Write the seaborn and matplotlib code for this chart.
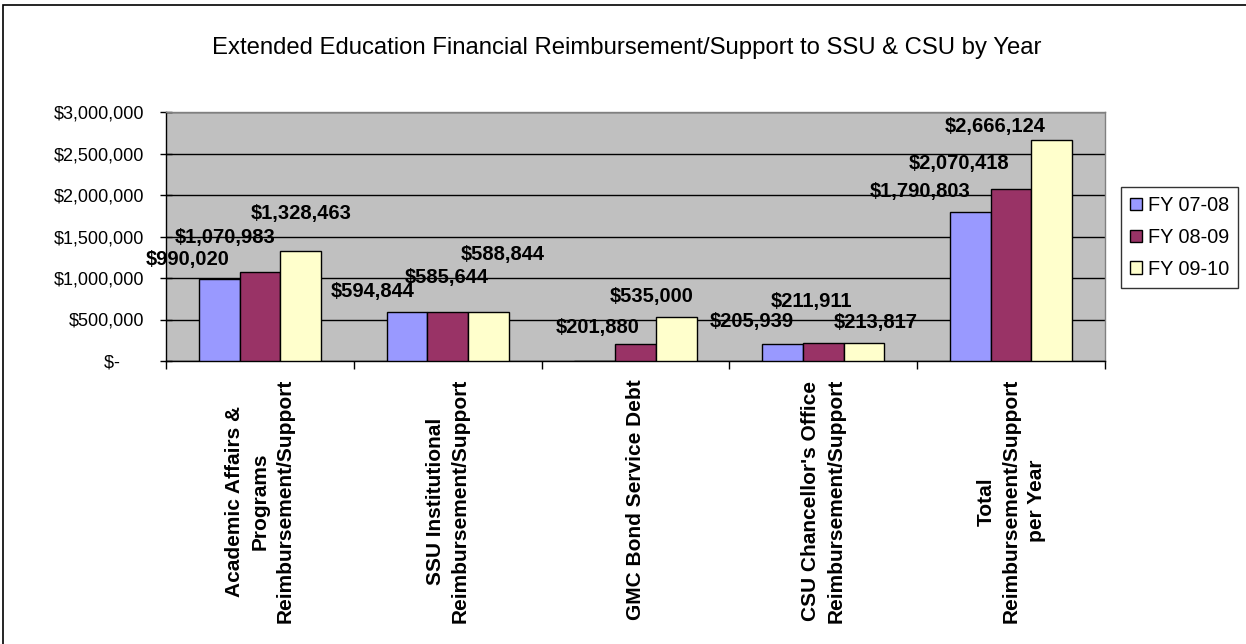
import matplotlib
matplotlib.use("Agg")
import matplotlib.pyplot as plt
import matplotlib.ticker as mticker
from matplotlib.patches import Rectangle
import seaborn as sns
import pandas as pd

categories = [
    "Academic Affairs &\nPrograms\nReimbursement/Support",
    "SSU Institutional\nReimbursement/Support",
    "GMC Bond Service Debt",
    "CSU Chancellor's Office\nReimbursement/Support",
    "Total\nReimbursement/Support\nper Year",
]
years = ["FY 07-08", "FY 08-09", "FY 09-10"]
fy0708 = [990020, 594844, 0, 205939, 1790803]
fy0809 = [1070983, 585644, 201880, 211911, 2070418]
fy0910 = [1328463, 588844, 535000, 213817, 2666124]
colors = ["#9999FF", "#993366", "#FFFFCC"]
yticks = [0, 500000, 1000000, 1500000, 2000000, 2500000, 3000000]

# label placement (pixels, relative to bar top-centre), mimicking Excel's layout
label_dx = [[-32, -34, 0, -31, -50],
            [-35, -1, -38, -12, -52],
            [1, 14, -25, 12, -57]]
label_dy = [[19, 20, 0, 22, 21],
            [35, 35, 17, 42, 26],
            [37, 58, 20, 21, 13]]

rows = []
for yr, vals in zip(years, [fy0708, fy0809, fy0910]):
    for c, v in zip(categories, vals):
        rows.append({"Category": c, "Year": yr, "Value": v})
df = pd.DataFrame(rows)

sns.set_style("white")
plt.rcParams["font.family"] = ["Liberation Sans", "DejaVu Sans"]
plt.rcParams["text.color"] = "black"
plt.rcParams["xtick.color"] = "black"
plt.rcParams["ytick.color"] = "black"
plt.rcParams["axes.labelcolor"] = "black"

fig = plt.figure(figsize=(12.46, 6.44), dpi=100)
ax = fig.add_axes([166/1246, 1-361/644, (1105-166)/1246, (361-112)/644])
ax.set_facecolor("#C0C0C0")

sns.barplot(data=df, x="Category", y="Value", hue="Year", palette=colors,
            order=categories, hue_order=years, width=0.65, saturation=1,
            edgecolor="black", linewidth=1, ax=ax, zorder=3, errorbar=None)

px2pt = 72 / 100
for si, (cont, vals) in enumerate(zip(ax.containers, [fy0708, fy0809, fy0910])):
    for ci, (bar, v) in enumerate(zip(cont, vals)):
        if not v:
            continue
        ax.annotate(f"${v:,.0f}", xy=(bar.get_x() + bar.get_width() / 2, bar.get_height()),
                    xytext=(label_dx[si][ci] * px2pt, label_dy[si][ci] * px2pt),
                    textcoords="offset points", ha="center", va="center", color="black",
                    fontsize=14.5, fontweight="bold", zorder=5, annotation_clip=False)

ax.set_ylim(0, 3000000)
ax.set_xlim(-0.5, 4.5)
ax.set_yticks(yticks)
ax.yaxis.set_major_formatter(mticker.FuncFormatter(lambda v, p: "$-     " if v == 0 else f"${v:,.0f}"))
ax.yaxis.grid(True, color="black", linewidth=1, zorder=1)
ax.set_axisbelow(True)
ax.tick_params(axis="y", which="major", left=True, direction="inout", length=9, width=1,
               color="black", labelcolor="black", labelsize=13, pad=11)

ax.set_xticks(range(len(categories)))
ax.set_xticklabels(categories, rotation=90, fontsize=15, fontweight="bold",
                   va="top", ha="center", multialignment="center", linespacing=1.4)
ax.tick_params(axis="x", which="major", length=0, pad=13, labelcolor="black")
ax.set_xticks([i - 0.5 for i in range(len(categories) + 1)], minor=True)
ax.tick_params(axis="x", which="minor", bottom=True, length=6, width=1, color="black")

ax.set_xlabel("")
ax.set_ylabel("")
for s in ["left", "bottom"]:
    ax.spines[s].set_color("black")
    ax.spines[s].set_linewidth(1)
for s in ["top", "right"]:
    ax.spines[s].set_color("#808080")
    ax.spines[s].set_linewidth(1)

leg = ax.legend(loc="upper left", bbox_to_anchor=(1121/1246, 1-187/644),
                bbox_transform=fig.transFigure, fontsize=14.3, frameon=True,
                fancybox=False, edgecolor="black", handlelength=0.6, handleheight=0.6,
                handletextpad=0.3, borderpad=0.45, labelspacing=0.65, borderaxespad=0)
leg.get_frame().set_linewidth(1)

fig.text(627/1246, 1-48/644, "Extended Education Financial Reimbursement/Support to SSU & CSU by Year",
         ha="center", va="center", fontsize=17.2, color="black")

fig.patches.append(Rectangle((3/1246, -0.1), 1.2, 1.1 - 5/644, transform=fig.transFigure,
                             fill=False, edgecolor="black", linewidth=1.2, clip_on=False))

fig.savefig("out.png", dpi=100, facecolor="white")
